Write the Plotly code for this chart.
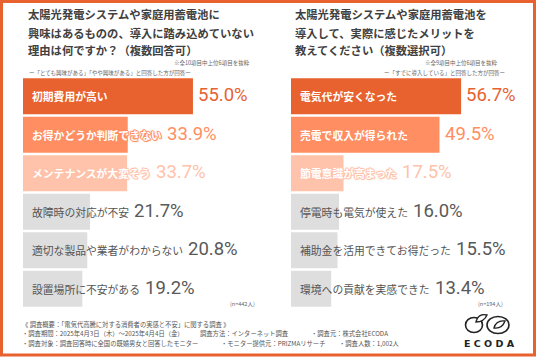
import plotly.graph_objects as go

W, H = 536, 357

left_labels = ["初期費用が高い", "お得かどうか判断できない", "メンテナンスが大変そう",
               "故障時の対応が不安", "適切な製品や業者がわからない", "設置場所に不安がある"]
left_values = [55.0, 33.9, 33.7, 21.7, 20.8, 19.2]

right_labels = ["電気代が安くなった", "売電で収入が得られた", "節電意識が高まった",
                "停電時も電気が使えた", "補助金を活用できてお得だった", "環境への貢献を実感できた"]
right_values = [56.7, 49.5, 17.5, 16.0, 15.5, 13.4]

bar_colors = ["#E8622F", "#FF8E63", "#FFC2AA", "#DEDEDE", "#DEDEDE", "#DEDEDE"]
value_colors = ["#E8622F", "#FF8E63", "#FFC2AA", "#595959", "#595959", "#595959"]
label_colors = ["white", "white", "white", "#555555", "#555555", "#555555"]

left_title = ["太陽光発電システムや家庭用蓄電池に",
              "興味はあるものの、導入に踏み込めていない",
              "理由は何ですか？（複数回答可）"]
right_title = ["太陽光発電システムや家庭用蓄電池を",
               "導入して、実際に感じたメリットを",
               "教えてください（複数選択可）"]
left_note1 = "※全10項目中上位6項目を抜粋"
left_note2 = "ー「とても興味がある」「やや興味がある」と回答した方が回答ー"
right_note1 = "※全9項目中上位6項目を抜粋"
right_note2 = "ー「すでに導入している」と回答した方が回答ー"
left_n = "(n=442人)"
right_n = "(n=194人)"
footer = [
    ("《 調査概要：「電気代高騰に対する消費者の実感と不安」に関する調査 》", 21, 324),
    ("・調査期間：2025年4月3日（木）～2025年4月4日（金）", 21, 333),
    ("調査方法：インターネット調査", 199, 333),
    ("・調査元：株式会社ECODA", 310, 333),
    ("・調査対象：調査回答時に全国の既婚男女と回答したモニター", 21, 343),
    ("・モニター提供元：PRIZMAリサーチ", 220, 343),
    ("・調査人数：1,002人", 338, 343),
]

JP = "Noto Sans CJK JP"
NUM = "Roboto"

def px(x):
    return x / W

def py(y):
    return 1 - y / H

fig = go.Figure()

PLOT_W = 240
Y_TOP, Y_BOT = 77, 308
panels = [
    (left_labels, left_values, 23, 3.09, "x", "y"),
    (right_labels, right_values, 291, 3.0, "x2", "y2"),
]
annotations = []
LAB_FS = 10.8
for labels, values, x0px, scale, xr, yr in panels:
    fig.add_trace(go.Bar(
        x=values, y=labels, orientation="h",
        marker=dict(color=bar_colors, line=dict(width=0)),
        xaxis=xr, yaxis=yr, hoverinfo="skip", showlegend=False,
    ))
    for i, (lab, v) in enumerate(zip(labels, values)):
        if i < 3:
            c = bar_colors[i]
            shadow = f"1px 0 0 {c}, -1px 0 0 {c}, 0 1px 0 {c}, 0 -1px 0 {c}, 1px 1px 1px {c}, -1px -1px 1px {c}"
        else:
            shadow = "none"
        annotations.append(dict(
            x=0, y=lab, xref=xr, yref=yr, text=lab, showarrow=False,
            xanchor="left", yanchor="middle", xshift=8,
            font=dict(family=JP, size=LAB_FS, color=label_colors[i], shadow=shadow,
                      weight="bold" if i < 3 else "normal"),
        ))
        bar_end = v * scale
        lab_end = 9 + len(lab) * LAB_FS
        pos = max(bar_end, lab_end) + 4
        annotations.append(dict(
            x=pos / scale, y=lab, xref=xr, yref=yr, text=f"{v:.1f}%", showarrow=False,
            xanchor="left", yanchor="middle", yshift=1,
            font=dict(family=NUM, size=18.5, color=value_colors[i]),
        ))

# titles
TY = [14.5, 32.5, 50.5]
for k, line in enumerate(left_title):
    annotations.append(dict(x=px(27), y=py(TY[k]), xref="paper", yref="paper",
                            text=line, showarrow=False, xanchor="left", yanchor="middle",
                            font=dict(family=JP, size=11.3, color="#404040", weight="bold")))
for k, line in enumerate(right_title):
    annotations.append(dict(x=px(294), y=py(TY[k]), xref="paper", yref="paper",
                            text=line, showarrow=False, xanchor="left", yanchor="middle",
                            font=dict(family=JP, size=11.3, color="#404040", weight="bold")))

small = dict(family=JP, size=5.5, color="#666666")
annotations += [
    dict(x=px(251), y=py(62.5), text=left_note1, xanchor="right", font=small),
    dict(x=px(110), y=py(73), text=left_note2, xanchor="center", font=small),
    dict(x=px(499), y=py(62.5), text=right_note1, xanchor="right", font=small),
    dict(x=px(444), y=py(73), text=right_note2, xanchor="center", font=small),
    dict(x=px(242), y=py(304), text=left_n, xanchor="center", font=small),
    dict(x=px(490), y=py(304), text=right_n, xanchor="center", font=small),
]
for t, xx, yy in footer:
    annotations.append(dict(x=px(xx), y=py(yy), text=t, xanchor="left",
                            font=dict(family=JP, size=6.3, color="#555555")))
annotations.append(dict(x=px(489.5), y=py(343), text="E C O D A", xanchor="center",
                        font=dict(family="DejaVu Sans", size=9.5, color="#222222", weight="bold")))

for a in annotations:
    a.setdefault("xref", "paper")
    a.setdefault("yref", "paper")
    a.setdefault("showarrow", False)
    a.setdefault("yanchor", "middle")
    a["borderpad"] = 0

shapes = [
    dict(type="rect", xref="paper", yref="paper", x0=px(1.5), y0=py(1.5), x1=px(534.5), y1=py(355),
         line=dict(color="#E8622F", width=3), fillcolor="rgba(0,0,0,0)", layer="above"),
]
# logo: infinity loops with leaves
def circ(cx, cy, rx, ry):
    return dict(type="circle", xref="paper", yref="paper",
                x0=px(cx - rx), x1=px(cx + rx), y0=py(cy + ry), y1=py(cy - ry),
                line=dict(color="#222222", width=1.6), fillcolor="rgba(0,0,0,0)")
shapes.append(circ(474, 325, 8.5, 7.5))
shapes.append(circ(498, 325, 11, 8.5))
def leaf(pts):
    d = "M {},{} Q {},{} {},{} Q {},{} {},{} Z".format(
        px(pts[0][0]), py(pts[0][1]), px(pts[1][0]), py(pts[1][1]),
        px(pts[2][0]), py(pts[2][1]), px(pts[3][0]), py(pts[3][1]),
        px(pts[0][0]), py(pts[0][1]))
    return dict(type="path", xref="paper", yref="paper", path=d,
                line=dict(color="#222222", width=1.4), fillcolor="white")
shapes.append(leaf([(476, 322), (478, 313), (487, 315), (484, 322)]))
shapes.append(leaf([(494, 328), (496, 320), (505, 321), (502, 329)]))

fig.update_layout(
    width=W, height=H, margin=dict(l=0, r=0, t=0, b=0),
    paper_bgcolor="white", plot_bgcolor="white",
    bargap=0.07,
    xaxis=dict(domain=[px(23), px(23 + PLOT_W)], range=[0, PLOT_W / 3.09], visible=False),
    yaxis=dict(domain=[py(Y_BOT), py(Y_TOP)], autorange="reversed", visible=False),
    xaxis2=dict(domain=[px(291), px(291 + PLOT_W)], range=[0, PLOT_W / 3.0], visible=False),
    yaxis2=dict(domain=[py(Y_BOT), py(Y_TOP)], autorange="reversed", visible=False, anchor="x2"),
    annotations=annotations, shapes=shapes,
)
fig.write_html("out.html", config={"displayModeBar": False},
               post_script="document.body.style.margin='0';document.body.style.overflow='hidden';")
